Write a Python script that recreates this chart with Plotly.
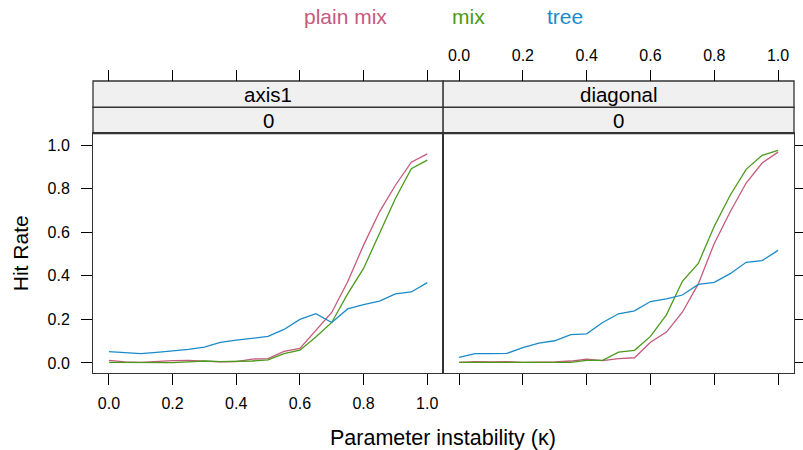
import plotly.graph_objects as go

# Parameter instability grid (kappa)
kappa = [round(0.05 * i, 2) for i in range(21)]

series_names = ["plain mix", "mix", "tree"]
series_colors = ["#C65A7C", "#4B9A1C", "#1A8BC9"]
panel_names = ["axis1", "diagonal"]
panel_sub = ["0", "0"]

# Hit rates, panel "axis1"
axis1_plain_mix = [0.012, 0.005, 0.003, 0.008, 0.011, 0.012, 0.008, 0.005, 0.006, 0.018, 0.020,
                   0.053, 0.067, 0.152, 0.232, 0.373, 0.541, 0.694, 0.816, 0.922, 0.960]
axis1_mix = [0.003, 0.002, 0.002, 0.002, 0.002, 0.005, 0.009, 0.006, 0.006, 0.009, 0.014,
             0.043, 0.059, 0.119, 0.186, 0.317, 0.434, 0.595, 0.755, 0.892, 0.931]
axis1_tree = [0.052, 0.047, 0.043, 0.049, 0.055, 0.062, 0.073, 0.095, 0.105, 0.113, 0.122,
              0.154, 0.200, 0.226, 0.186, 0.248, 0.268, 0.284, 0.317, 0.326, 0.369]

# Hit rates, panel "diagonal"
diag_plain_mix = [0.003, 0.006, 0.005, 0.006, 0.003, 0.003, 0.005, 0.009, 0.017, 0.011, 0.020,
                  0.024, 0.095, 0.142, 0.233, 0.363, 0.549, 0.694, 0.826, 0.918, 0.968]
diag_mix = [0.003, 0.003, 0.003, 0.003, 0.003, 0.003, 0.003, 0.003, 0.012, 0.012, 0.050,
            0.058, 0.122, 0.221, 0.375, 0.457, 0.628, 0.770, 0.889, 0.953, 0.976]
diag_tree = [0.026, 0.043, 0.043, 0.044, 0.070, 0.091, 0.102, 0.130, 0.134, 0.186, 0.226,
             0.239, 0.282, 0.294, 0.312, 0.361, 0.370, 0.410, 0.462, 0.470, 0.517]

panels = [
    [axis1_plain_mix, axis1_mix, axis1_tree],
    [diag_plain_mix, diag_mix, diag_tree],
]

x_ticks = [0.0, 0.2, 0.4, 0.6, 0.8, 1.0]
y_ticks = [0.0, 0.2, 0.4, 0.6, 0.8, 1.0]
x_range = [-0.05, 1.05]
y_range = [-0.046, 1.0535]

FONT = "Liberation Sans, Arial, sans-serif"
INK = "#000000"
BORDER = "#333333"

W, H = 803, 450
m_l, m_r, m_t, m_b = 93, 9.3, 80.7, 76.7
plot_w = W - m_l - m_r
plot_h = H - m_t - m_b
strip_h = 26.3
data_top = 1 - 2 * strip_h / plot_h      # top of the data region
strip_mid = 1 - strip_h / plot_h
split = 0.4995


def px_x(px):
    return (px - m_l) / plot_w


def px_y(py):
    return (H - m_b - py) / plot_h


fig = go.Figure()

xaxes = ["x", "x2"]
yaxes = ["y", "y2"]
for p, data in enumerate(panels):
    for name, color, vals in zip(series_names, series_colors, data):
        fig.add_trace(go.Scatter(
            x=kappa, y=vals, mode="lines", name=name,
            line=dict(color=color, width=1.3),
            xaxis=xaxes[p], yaxis=yaxes[p], showlegend=False,
        ))

# traces registering the top axes (nothing drawn)
fig.add_trace(go.Scatter(x=kappa, y=axis1_tree, mode="none", xaxis="x3", yaxis="y",
                         showlegend=False, hoverinfo="skip"))
fig.add_trace(go.Scatter(x=kappa, y=diag_tree, mode="none", xaxis="x4", yaxis="y2",
                         showlegend=False, hoverinfo="skip"))

tickfont = dict(family=FONT, size=16, color=INK)
common_x = dict(range=x_range, tickvals=x_ticks, ticktext=[f"{v:.1f}" for v in x_ticks],
                ticks="outside", ticklen=11, tickwidth=1, tickcolor=INK,
                showgrid=False, zeroline=False, tickfont=tickfont, automargin=False)
common_y = dict(range=y_range, tickvals=y_ticks, ticktext=[f"{v:.1f}" for v in y_ticks],
                ticks="outside", tickwidth=1, tickcolor=INK,
                showgrid=False, zeroline=False, tickfont=tickfont,
                domain=[0, data_top], automargin=False)

fig.update_layout(
    width=W, height=H,
    margin=dict(l=m_l, r=m_r, t=m_t, b=m_b, pad=0, autoexpand=False),
    paper_bgcolor="white", plot_bgcolor="white",
    font=dict(family=FONT, color=INK),
    showlegend=False,
    xaxis=dict(**common_x, domain=[0, split], anchor="y",
               showline=True, linecolor=BORDER, linewidth=1, mirror=True,
               ticklabelstandoff=5),
    xaxis2=dict(**common_x, domain=[split, 1], anchor="y2", showticklabels=False,
                showline=True, linecolor=BORDER, linewidth=1, mirror=True),
    xaxis3=dict(**common_x, overlaying="x", side="top", anchor="free", position=1,
                showticklabels=False, showline=False),
    xaxis4=dict(**common_x, overlaying="x2", side="top", anchor="free", position=1,
                showline=False, ticklabelstandoff=3),
    yaxis=dict(**common_y, anchor="x", ticklen=11, showline=True, linecolor=BORDER,
               linewidth=1, mirror=True, ticklabelstandoff=8),
    yaxis2=dict(**common_y, anchor="x2", side="right", ticklen=9, showticklabels=False,
                showline=True, linecolor=BORDER, linewidth=1, mirror=True),
)

# strips above each panel
shapes = []
annotations = []
for p, (x0, x1) in enumerate([(0, split), (split, 1)]):
    for y0, y1 in [(data_top, strip_mid), (strip_mid, 1)]:
        shapes.append(dict(type="rect", xref="paper", yref="paper",
                           x0=x0, x1=x1, y0=y0, y1=y1,
                           fillcolor="#F0F0F0", line=dict(color=BORDER, width=1.3),
                           layer="below"))
    xc = (x0 + x1) / 2
    annotations.append(dict(text=panel_names[p], x=xc, y=(strip_mid + 1) / 2,
                            xref="paper", yref="paper", showarrow=False,
                            xanchor="center", yanchor="middle",
                            font=dict(family=FONT, size=20.5, color=INK)))
    annotations.append(dict(text=panel_sub[p], x=xc, y=(data_top + strip_mid) / 2,
                            xref="paper", yref="paper", showarrow=False,
                            xanchor="center", yanchor="middle",
                            font=dict(family=FONT, size=20.5, color=INK)))

# text key across the top
key_px = [345, 468, 565]
for name, color, kx in zip(series_names, series_colors, key_px):
    annotations.append(dict(text=name, x=px_x(kx), y=px_y(16),
                            xref="paper", yref="paper", showarrow=False,
                            xanchor="center", yanchor="middle",
                            font=dict(family=FONT, size=21, color=color)))

# axis titles
annotations.append(dict(text="Hit Rate", x=px_x(20), y=data_top / 2,
                        xref="paper", yref="paper", showarrow=False, textangle=-90,
                        xanchor="center", yanchor="middle",
                        font=dict(family=FONT, size=21, color=INK)))
annotations.append(dict(text="Parameter instability (κ)", x=split, y=px_y(438),
                        xref="paper", yref="paper", showarrow=False,
                        xanchor="center", yanchor="middle",
                        font=dict(family=FONT, size=21.5, color=INK)))

fig.update_layout(shapes=shapes, annotations=annotations)

fig.write_html("out.html")
